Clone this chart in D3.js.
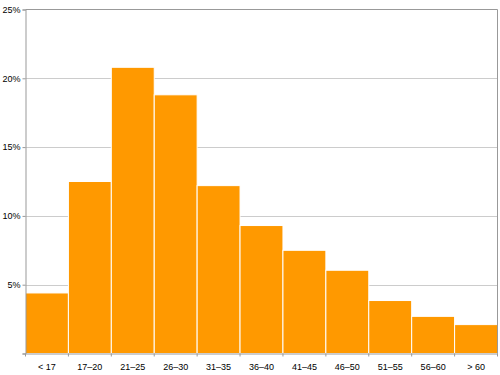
<!DOCTYPE html>
<html><head><meta charset="utf-8">
<script src="https://cdn.jsdelivr.net/npm/d3@7"></script>
<style>body{margin:0;background:#fff}svg{display:block}</style>
</head><body>
<svg id="chart" width="500" height="375"></svg>
<script>
const categories = ["< 17","17–20","21–25","26–30","31–35","36–40","41–45","46–50","51–55","56–60","> 60"];
const values = [4.4, 12.5, 20.8, 18.8, 12.2, 9.3, 7.5, 6.05, 3.85, 2.7, 2.1];
const yTicks = [0, 5, 10, 15, 20, 25];

(function () {
const svg = d3.select("#chart");
const mLeft = 25.5, mRight = 497.5, mTop = 9.5, mBottom = 353.5;
const x = d3.scaleBand().domain(categories).range([mLeft, mRight]).padding(0);
const y = d3.scaleLinear().domain([0, 25]).range([mBottom, mTop]);

// gridlines
svg.append("g").selectAll("line").data(yTicks.filter(d => d > 0 && d < 25)).join("line")
  .attr("x1", mLeft).attr("x2", mRight)
  .attr("y1", d => Math.round(y(d)) + 0.5).attr("y2", d => Math.round(y(d)) + 0.5)
  .attr("stroke", "#cccccc").attr("stroke-width", 1);

// bars
svg.append("g").selectAll("rect").data(categories).join("rect")
  .attr("x", d => x(d))
  .attr("width", x.bandwidth())
  .attr("y", (d, i) => y(values[i]))
  .attr("height", (d, i) => mBottom - y(values[i]))
  .attr("fill", "#ff9900")
  .attr("stroke", "#ffffff").attr("stroke-width", 1);

// frame: top and right
svg.append("line").attr("x1", mLeft).attr("x2", mRight).attr("y1", mTop).attr("y2", mTop)
  .attr("stroke", "#999999");
svg.append("line").attr("x1", mRight).attr("x2", mRight).attr("y1", mTop).attr("y2", mBottom)
  .attr("stroke", "#999999");

// y axis
const yAxis = d3.axisLeft(y).tickValues(yTicks).tickSize(3).tickPadding(2)
  .tickFormat(d => d === 0 ? "" : d + "%");
const gy = svg.append("g").attr("transform", `translate(${mLeft},0)`).call(yAxis);
gy.select(".domain").attr("stroke", "#999999");
gy.selectAll(".tick line").attr("stroke", "#999999");
gy.selectAll("text").attr("fill", "#000").style("font-family", "Liberation Sans, Arial, sans-serif").style("font-size", "9px");

// x axis
const xAxis = d3.axisBottom(x).tickSize(0).tickPadding(10);
const gx = svg.append("g").attr("transform", `translate(0,${mBottom})`).call(xAxis);
gx.select(".domain").attr("stroke", "#999999");
gx.selectAll("text").attr("fill", "#000").style("font-family", "Liberation Sans, Arial, sans-serif").style("font-size", "9px");

// x boundary ticks
const bounds = categories.map(c => x(c)).concat([mRight]);
svg.append("g").selectAll("line").data(bounds).join("line")
  .attr("x1", d => d).attr("x2", d => d)
  .attr("y1", mBottom).attr("y2", mBottom + 3)
  .attr("stroke", "#999999");
})();
</script>
</body></html>
